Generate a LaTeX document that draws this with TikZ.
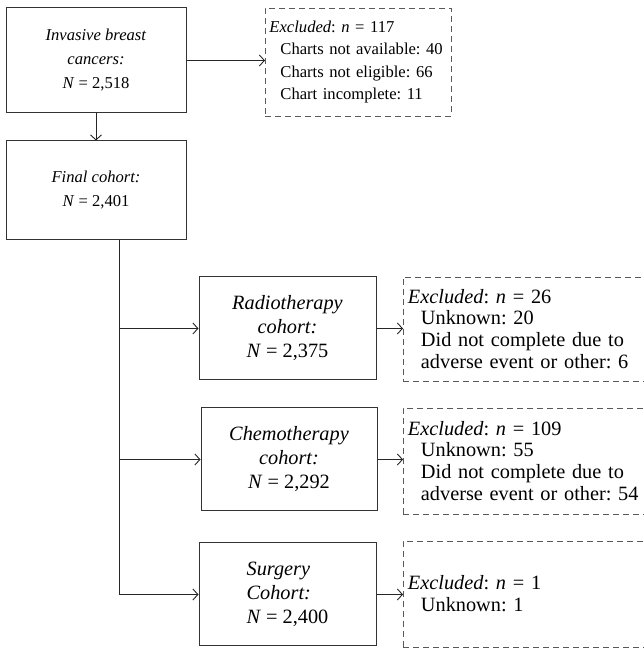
\documentclass[tikz,border=0pt]{standalone}
\usepackage{fontspec}
\setmainfont{Liberation Serif}
\usetikzlibrary{arrows.meta}
\frenchspacing
\begin{document}
\begin{tikzpicture}[x=1pt,y=1pt,
  every node/.style={inner sep=0pt},
  topfont/.style={font=\fontsize{16.6}{24}\selectfont},
  topexfont/.style={font=\fontsize{16.6}{22.5}\selectfont},
  lowfont/.style={font=\fontsize{20.3}{24}\selectfont},
  lowexfont/.style={font=\fontsize{20.3}{21.8}\selectfont},
  solidbox/.style={draw=black!80, line width=1pt, align=center, minimum height=#1},
  exbox/.style={draw=black!65, line width=0.9pt, dash pattern=on 6pt off 4pt, align=left, anchor=west, minimum height=#1},
  conn/.style={draw=black!85, line width=0.9pt, -{Straight Barb[length=5pt,width=11pt]}},
  trunkline/.style={draw=black!85, line width=0.9pt}]
\useasboundingbox (0,0) rectangle (643,648);

\node[solidbox=105pt, minimum width=180pt, topfont] (inv) at (96,587.5) {\textit{Invasive breast}\\ \textit{cancers:}\\ \textit{N} = 2,518};
\node[solidbox=99pt, minimum width=180pt, topfont] (fin) at (96,457.5) {\textit{Final cohort:}\\ \textit{N} = 2,401};
\node[solidbox=103pt, minimum width=177pt, lowfont] (rad) at (287.5,319.5) {\textit{Radiotherapy}\\ \textit{cohort:}\\ \textit{N} = 2,375};
\node[solidbox=103pt, minimum width=176pt, lowfont] (che) at (289,188.5) {\textit{Chemotherapy}\\ \textit{cohort:}\\ \textit{N} = 2,292};
\node[solidbox=103pt, minimum width=177pt, lowfont, align=left] (sur) at (287.5,53.5) {\textit{Surgery}\\ \textit{Cohort:}\\ \textit{N} = 2,400};

\node[exbox=108pt, minimum width=182pt, text width=178pt, inner xsep=4pt, topexfont] (ex1) at (265,586) {\textit{Excluded}: \textit{n} = 117\\ \hspace*{11pt}Charts not available: 40\\ \hspace*{11pt}Charts not eligible: 66\\ \hspace*{11pt}Chart incomplete: 11};
\node[exbox=104pt, minimum width=239pt, text width=233pt, inner xsep=4.5pt, lowexfont] (exr) at (403,319) {\textit{Excluded}: \textit{n} = 26\\ \hspace*{13pt}Unknown: 20\\ \hspace*{13pt}Did not complete due to\\ \hspace*{13pt}adverse event or other: 6};
\node[exbox=106pt, minimum width=239pt, text width=233pt, inner xsep=4.5pt, lowexfont] (exc) at (403,187) {\textit{Excluded}: \textit{n} = 109\\ \hspace*{13pt}Unknown: 55\\ \hspace*{13pt}Did not complete due to\\ \hspace*{13pt}adverse event or other: 54};
\node[exbox=106pt, minimum width=239pt, text width=233pt, inner xsep=4.5pt, lowexfont] (exs) at (403,54) {\textit{Excluded}: \textit{n} = 1\\ \hspace*{13pt}Unknown: 1\\[16pt]};

\coordinate (t0) at (119,408);

\draw[conn] (inv.east) -- (inv.east -| ex1.west);
\draw[conn] (inv.south) -- (fin.north);
\draw[trunkline] (t0) -- (t0 |- sur.west);
\draw[conn] (t0 |- rad.west) -- (rad.west);
\draw[conn] (t0 |- che.west) -- (che.west);
\draw[conn] (t0 |- sur.west) -- (sur.west);
\draw[conn] (rad.east) -- (rad.east -| exr.west);
\draw[conn] (che.east) -- (che.east -| exc.west);
\draw[conn] (sur.east) -- (sur.east -| exs.west);
\end{tikzpicture}
\end{document}
